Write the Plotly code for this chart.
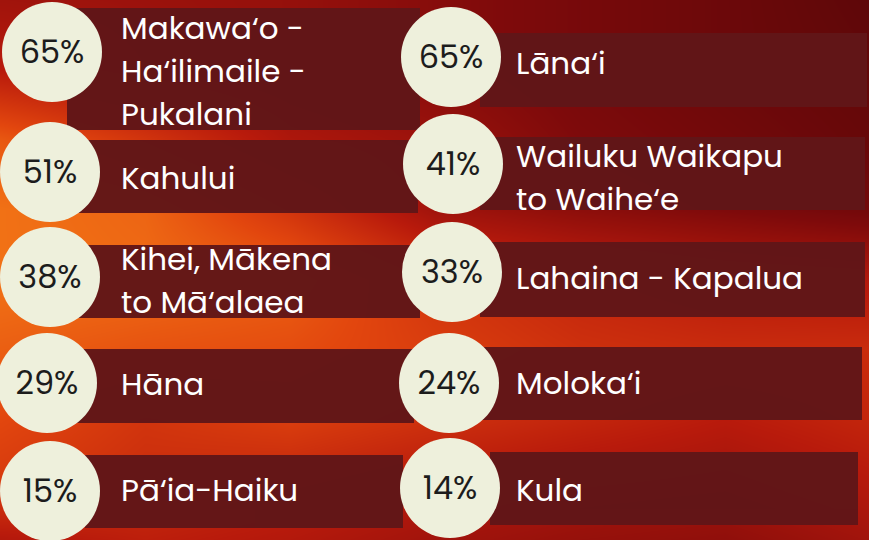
"""Share of residents by community, drawn as badge bars over a lava backdrop."""

import plotly.graph_objects as go

# ---- data -------------------------------------------------------------
left_pcts = [65, 51, 38, 29, 15]
left_labels = [
    "Makawa‘o -<br>Ha‘ilimaile -<br>Pukalani",
    "Kahului",
    "Kihei, Mākena<br>to Mā‘alaea",
    "Hāna",
    "Pā‘ia-Haiku",
]
right_pcts = [65, 41, 33, 24, 14]
right_labels = [
    "Lāna‘i",
    "Wailuku Waikapu<br>to Waihe‘e",
    "Lahaina - Kapalua",
    "Moloka‘i",
    "Kula",
]

# ---- layout positions (page pixels) -----------------------------------
W, H = 869, 540
left_circle_x = [52, 50, 50, 47, 50]
left_circle_y = [52, 172, 277, 383, 491]
right_circle_x = [451, 453, 452, 449, 450]
right_circle_y = [57, 164, 272, 383, 488]
pct_nudge = 3  # percent text sits a touch below the circle centre

left_bar_x0 = [67, 67, 67, 67, 85]
left_bar_x1 = [420, 418, 420, 414, 403]
left_bar_y0 = [8, 140, 245, 349, 455]
left_bar_y1 = [130, 213, 318, 423, 528]
right_bar_x0 = [480, 480, 480, 480, 490]
right_bar_x1 = [867, 865, 865, 862, 858]
right_bar_y0 = [33, 137, 242, 347, 452]
right_bar_y1 = [107, 210, 317, 420, 525]

left_text_x = 121
right_text_x = 516
left_text_y = [74, 181, 284, 387, 493]
right_text_y = [66, 181, 281, 386, 493]
line_gap = 43

# rough lava backdrop, hand-read brightness levels
bg_x = [0, 145, 290, 435, 580, 725, 869]
bg_y = [0, 70, 140, 210, 280, 350, 420, 490, 540]
bg_z = [
    [0.42, 0.40, 0.38, 0.33, 0.27, 0.22, 0.16],
    [0.50, 0.42, 0.38, 0.33, 0.27, 0.22, 0.18],
    [0.76, 0.62, 0.46, 0.40, 0.30, 0.25, 0.20],
    [0.84, 0.80, 0.62, 0.42, 0.35, 0.30, 0.25],
    [0.84, 0.82, 0.78, 0.62, 0.55, 0.50, 0.48],
    [0.78, 0.74, 0.72, 0.66, 0.60, 0.58, 0.58],
    [0.70, 0.62, 0.66, 0.60, 0.55, 0.50, 0.55],
    [0.64, 0.58, 0.54, 0.48, 0.44, 0.42, 0.48],
    [0.48, 0.52, 0.48, 0.42, 0.38, 0.36, 0.42],
]

CIRCLE = "#eef0dc"
BAR = "#611618"
FONT = "Poppins, Open Sans, sans-serif"

fig = go.Figure()

fig.add_trace(
    go.Heatmap(
        x=bg_x,
        y=bg_y,
        z=bg_z,
        zmin=0,
        zmax=1,
        zsmooth="best",
        showscale=False,
        hoverinfo="skip",
        colorscale=[
            [0.0, "#3a0406"],
            [0.3, "#7e0a0b"],
            [0.5, "#b81a0c"],
            [0.7, "#e2460e"],
            [0.85, "#f27416"],
            [1.0, "#ffb032"],
        ],
    )
)

bar_x0 = left_bar_x0 + right_bar_x0
bar_x1 = left_bar_x1 + right_bar_x1
bar_y0 = left_bar_y0 + right_bar_y0
bar_y1 = left_bar_y1 + right_bar_y1
fig.add_trace(
    go.Bar(
        orientation="h",
        base=bar_x0,
        x=[b - a for a, b in zip(bar_x0, bar_x1)],
        y=[(a + b) / 2 for a, b in zip(bar_y0, bar_y1)],
        width=[b - a for a, b in zip(bar_y0, bar_y1)],
        marker=dict(color=BAR, line=dict(width=0)),
        opacity=0.97,
        hoverinfo="skip",
    )
)

circle_x = left_circle_x + right_circle_x
circle_y = left_circle_y + right_circle_y
fig.add_trace(
    go.Scatter(
        x=circle_x,
        y=circle_y,
        mode="markers",
        marker=dict(size=100, color=CIRCLE, line=dict(width=0)),
        hoverinfo="skip",
    )
)
fig.add_trace(
    go.Scatter(
        x=circle_x,
        y=[y + pct_nudge for y in circle_y],
        mode="text",
        text=[f"{p}%" for p in left_pcts + right_pcts],
        textposition="middle center",
        textfont=dict(family=FONT, size=32, color="#1c1c1c"),
        hoverinfo="skip",
    )
)

# labels: one text point per line so the line spacing can be matched
lx, ly, lt = [], [], []
for tx, ys, labels in (
    (left_text_x, left_text_y, left_labels),
    (right_text_x, right_text_y, right_labels),
):
    for yc, label in zip(ys, labels):
        lines = label.split("<br>")
        top = yc - line_gap * (len(lines) - 1) / 2
        for k, line in enumerate(lines):
            lx.append(tx)
            ly.append(top + k * line_gap)
            lt.append(line)

fig.add_trace(
    go.Scatter(
        x=lx,
        y=ly,
        mode="text",
        text=lt,
        textposition="middle right",
        textfont=dict(family=FONT, size=31, color="#ffffff"),
        hoverinfo="skip",
    )
)

fig.update_layout(
    width=W,
    height=H,
    autosize=False,
    margin=dict(l=0, r=0, t=0, b=0),
    paper_bgcolor="#9a120c",
    plot_bgcolor="#9a120c",
    showlegend=False,
    bargap=0,
)
fig.update_xaxes(range=[0, W], visible=False, fixedrange=True)
fig.update_yaxes(range=[H, 0], visible=False, fixedrange=True)

# drop the browser's default 8px body margin so the chart fills the window
fig.write_html(
    "out.html",
    config={"displayModeBar": False},
    post_script="document.body.style.margin='0';",
)
